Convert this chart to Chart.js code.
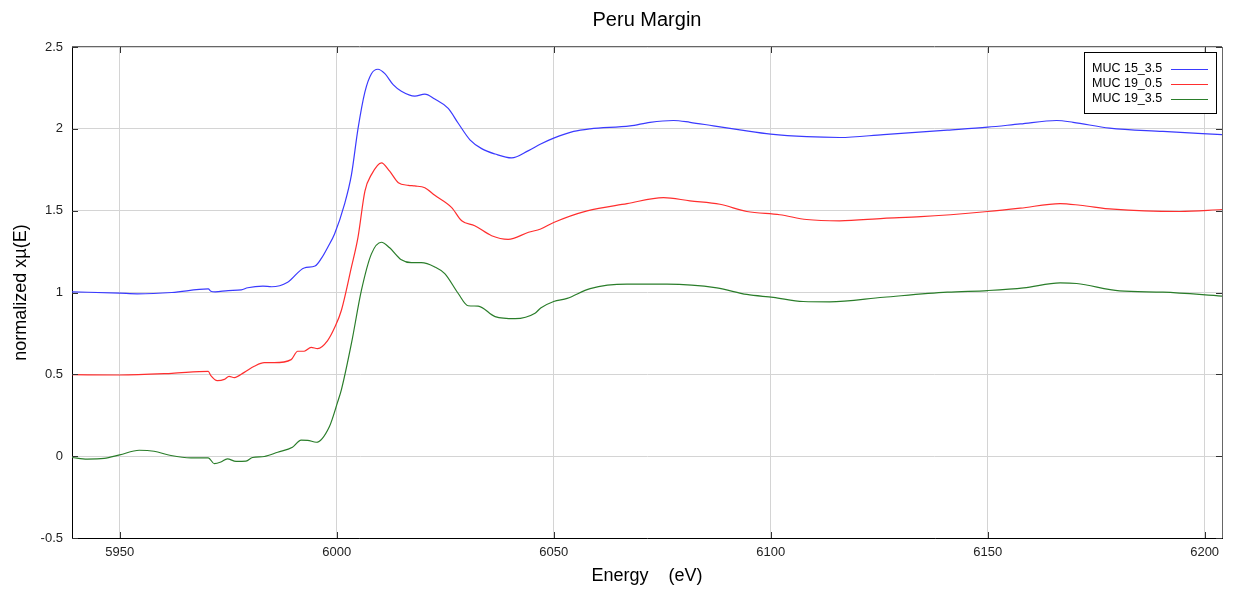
<!DOCTYPE html>
<html>
<head>
<meta charset="utf-8">
<title>Peru Margin</title>
<script src="https://cdn.jsdelivr.net/npm/chart.js@4.4.1/dist/chart.umd.min.js"></script>
<style>
  html, body { margin: 0; padding: 0; background: #fff; }
  #wrap { width: 1233px; height: 592px; }
</style>
</head>
<body>
<div id="wrap"><canvas id="grafico"></canvas></div>
<script>
// energia (eV) y mu normalizada
const eMuc15 = [5939, 5950, 5954, 5962, 5970.4, 5971, 5972, 5975, 5978, 5979.5, 5983, 5985, 5988.7, 5992.5, 5995, 5996.5, 5998, 5999.5, 6001.8, 6003.4, 6004.9, 6006.5, 6008, 6009.5, 6011.1, 6013, 6014.9, 6018, 6020.3, 6022.6, 6025.7, 6028, 6030.7, 6033.4, 6036.5, 6040.3, 6044.2, 6047, 6050, 6054.6, 6058.4, 6067.6, 6072.2, 6077.6, 6081.4, 6086.8, 6092.9, 6100, 6108.3, 6115.9, 6126, 6140.7, 6150, 6157.5, 6165.9, 6169.7, 6178.1, 6190.4, 6204];
const yMuc15 = [1.004, 0.996, 0.992, 1.0, 1.022, 1.008, 1.004, 1.012, 1.016, 1.029, 1.039, 1.035, 1.063, 1.15, 1.162, 1.21, 1.28, 1.358, 1.54, 1.72, 2.0, 2.226, 2.337, 2.364, 2.337, 2.27, 2.23, 2.2, 2.212, 2.182, 2.125, 2.034, 1.933, 1.879, 1.846, 1.822, 1.867, 1.907, 1.943, 1.984, 2.0, 2.018, 2.04, 2.051, 2.04, 2.018, 1.994, 1.968, 1.952, 1.947, 1.965, 1.992, 2.01, 2.03, 2.051, 2.04, 2.004, 1.984, 1.964];

const eMuc19a = [5939, 5950, 5962, 5970.4, 5971, 5972.5, 5974.1, 5975.2, 5976.4, 5978.7, 5981, 5983.3, 5985.6, 5989.5, 5991, 5992.5, 5994.1, 5995.6, 5997.9, 5999.6, 6001.1, 6003.4, 6004.9, 6006.5, 6008, 6010.3, 6012.2, 6014.2, 6016.5, 6018, 6020.3, 6022.6, 6026.5, 6028.8, 6031.8, 6035.7, 6039.5, 6044.2, 6047, 6050, 6057.7, 6066.9, 6075.3, 6081.4, 6088.3, 6094.5, 6102.1, 6108.3, 6115.9, 6126, 6134.6, 6150, 6157.5, 6166.7, 6171.3, 6178.9, 6194.2, 6204];
const yMuc19a = [0.498, 0.496, 0.506, 0.518, 0.492, 0.461, 0.469, 0.488, 0.48, 0.512, 0.549, 0.571, 0.571, 0.59, 0.641, 0.641, 0.665, 0.657, 0.706, 0.79, 0.893, 1.156, 1.337, 1.62, 1.72, 1.792, 1.741, 1.671, 1.655, 1.651, 1.64, 1.594, 1.519, 1.438, 1.408, 1.347, 1.325, 1.368, 1.388, 1.428, 1.499, 1.543, 1.58, 1.56, 1.539, 1.495, 1.475, 1.446, 1.438, 1.453, 1.463, 1.495, 1.515, 1.543, 1.533, 1.509, 1.495, 1.507];

const eMuc19b = [5939, 5942.5, 5946.4, 5950, 5954.5, 5957.9, 5961.8, 5966.4, 5970.4, 5971.8, 5973.3, 5974.8, 5976.8, 5979.1, 5980.6, 5983.3, 5986.4, 5989.8, 5991.8, 5993.3, 5995.3, 5998.3, 6000.2, 6001.1, 6003.4, 6005.7, 6008, 6010.3, 6012.2, 6014.9, 6017.2, 6019.5, 6022.6, 6024.9, 6028, 6030.3, 6032.6, 6036.5, 6041.1, 6045.7, 6047, 6050, 6053.1, 6058.4, 6066.9, 6076.1, 6087.6, 6094.5, 6100.6, 6107.5, 6113.6, 6126, 6140.7, 6150, 6158.3, 6166.7, 6170.5, 6180.4, 6190.4, 6204];
const yMuc19b = [-0.008, -0.018, -0.014, 0.008, 0.036, 0.03, 0.004, -0.01, -0.01, -0.046, -0.036, -0.016, -0.032, -0.03, -0.008, -0.002, 0.024, 0.054, 0.098, 0.097, 0.085, 0.18, 0.33, 0.408, 0.69, 1.014, 1.236, 1.307, 1.273, 1.2, 1.182, 1.182, 1.156, 1.115, 0.994, 0.919, 0.917, 0.853, 0.84, 0.873, 0.905, 0.945, 0.964, 1.024, 1.051, 1.051, 1.028, 0.988, 0.97, 0.945, 0.943, 0.971, 1.002, 1.012, 1.028, 1.059, 1.055, 1.01, 1.002, 0.978];

const etiquetas = ['MUC 15_3.5', 'MUC 19_0.5', 'MUC 19_3.5'];
const colores = ['#3a3aff', '#ff2e2e', '#2a7d2a'];

const fuente = '"Liberation Sans", Arial, sans-serif';
const puntos = (xs, ys) => xs.map((x, i) => ({ x, y: ys[i] }));

// marco, marcas hacia adentro y leyenda dentro del area
const extras = {
  id: 'extras',
  afterDraw(chart) {
    const { ctx, chartArea: a, scales: { x, y } } = chart;
    ctx.save();
    ctx.lineWidth = 1;
    ctx.strokeStyle = '#333';
    ctx.beginPath();
    x.ticks.forEach(t => {
      const px = Math.round(x.getPixelForValue(t.value)) + 0.5;
      ctx.moveTo(px, a.bottom); ctx.lineTo(px, a.bottom - 6);
      ctx.moveTo(px, a.top); ctx.lineTo(px, a.top + 6);
    });
    y.ticks.forEach(t => {
      const py = Math.round(y.getPixelForValue(t.value)) + 0.5;
      ctx.moveTo(a.left, py); ctx.lineTo(a.left + 6, py);
      ctx.moveTo(a.right, py); ctx.lineTo(a.right - 6, py);
    });
    ctx.stroke();

    ctx.strokeStyle = '#666';
    ctx.beginPath();
    ctx.moveTo(a.left, Math.round(a.top) - 0.5); ctx.lineTo(a.right, Math.round(a.top) - 0.5);
    ctx.moveTo(Math.round(a.right) + 0.5, a.top); ctx.lineTo(Math.round(a.right) + 0.5, a.bottom);
    ctx.stroke();

    const x0 = Math.round(a.right) - 138, y0 = Math.round(a.top) + 5, w = 132, h = 61;
    ctx.fillStyle = '#fff';
    ctx.fillRect(x0, y0, w, h);
    ctx.strokeStyle = '#000';
    ctx.strokeRect(x0 + 0.5, y0 + 0.5, w, h);
    ctx.font = '12.5px ' + fuente;
    ctx.textBaseline = 'middle';
    chart.data.datasets.forEach((ds, i) => {
      const yy = y0 + 16.5 + i * 15;
      ctx.fillStyle = '#000';
      ctx.fillText(ds.label, x0 + 8, yy);
      ctx.strokeStyle = ds.borderColor;
      ctx.beginPath();
      ctx.moveTo(x0 + 87, Math.round(yy) + 0.5);
      ctx.lineTo(x0 + 124, Math.round(yy) + 0.5);
      ctx.stroke();
    });
    ctx.restore();
  }
};

const ctx = document.getElementById('grafico').getContext('2d');
new Chart(ctx, {
  type: 'line',
  data: {
    datasets: [
      { label: etiquetas[0], data: puntos(eMuc15, yMuc15), borderColor: colores[0] },
      { label: etiquetas[1], data: puntos(eMuc19a, yMuc19a), borderColor: colores[1] },
      { label: etiquetas[2], data: puntos(eMuc19b, yMuc19b), borderColor: colores[2] }
    ].map(d => ({ ...d, borderWidth: 1.2, pointRadius: 0, fill: false, cubicInterpolationMode: 'monotone' }))
  },
  options: {
    responsive: true,
    maintainAspectRatio: false,
    animation: false,
    layout: { padding: { left: 0, right: 11, top: 0, bottom: 0 } },
    plugins: {
      legend: { display: false },
      tooltip: { enabled: false },
      title: {
        display: true,
        text: 'Peru Margin',
        fullSize: false,
        color: '#000',
        font: { family: fuente, size: 20, weight: 'normal' },
        padding: { top: 8, bottom: 15 }
      }
    },
    scales: {
      x: {
        type: 'linear',
        min: 5939,
        max: 6204,
        afterFit: s => { s.height = 54; },
        ticks: { stepSize: 50, includeBounds: false, color: '#222', padding: 7, font: { family: fuente, size: 13 }, callback: v => String(v) },
        grid: { color: '#d4d4d4', drawTicks: false },
        border: { display: true, color: '#000' },
        title: { display: true, text: 'Energy    (eV)', color: '#000', font: { family: fuente, size: 18 }, padding: { top: 0, bottom: 5 } }
      },
      y: {
        min: -0.5,
        max: 2.5,
        afterFit: s => { s.width = 72; },
        ticks: { stepSize: 0.5, color: '#222', padding: 9, font: { family: fuente, size: 13 }, callback: v => String(Number(v.toFixed(1))) },
        grid: { color: '#d4d4d4', drawTicks: false },
        border: { display: true, color: '#000' },
        title: { display: true, text: 'normalized xµ(E)', color: '#000', font: { family: fuente, size: 18 }, padding: { top: 10, bottom: 0 } }
      }
    }
  },
  plugins: [extras]
});
</script>
</body>
</html>
